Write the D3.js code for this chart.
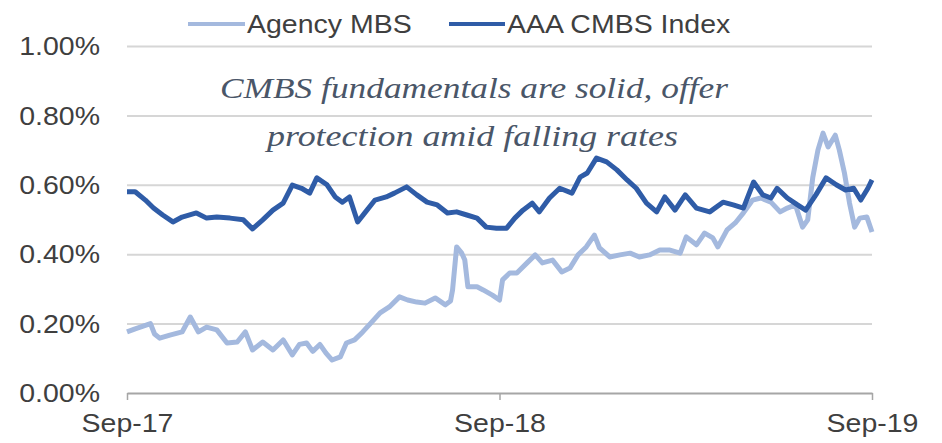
<!DOCTYPE html>
<html>
<head>
<meta charset="utf-8">
<script src="https://cdn.jsdelivr.net/npm/d3@7"></script>
<style>
  html, body { margin: 0; padding: 0; background: #ffffff; }
  svg { display: block; }
</style>
</head>
<body>
<svg id="chart" width="942" height="443"></svg>
<script>
// ---------------- DATA ----------------
const seriesNames = ["Agency MBS", "AAA CMBS Index"];

const yTickValues = [0, 0.2, 0.4, 0.6, 0.8, 1.0];
const xTickLabels = ["2017-09-01", "2018-09-01", "2019-09-01"];

const annotationLines = [
  "CMBS fundamentals are solid, offer",
  "protection amid falling rates"
];

// Agency MBS (%)
const agencyMBS = [
  ["2017-09-01",0.176],["2017-09-09",0.185],["2017-09-14",0.19],["2017-09-24",0.2],
  ["2017-09-28",0.17],["2017-10-03",0.158],["2017-10-13",0.167],["2017-10-25",0.176],
  ["2017-11-02",0.219],["2017-11-10",0.176],["2017-11-18",0.19],["2017-11-28",0.182],
  ["2017-12-08",0.144],["2017-12-18",0.147],["2017-12-26",0.176],["2018-01-02",0.124],
  ["2018-01-12",0.147],["2018-01-22",0.124],["2018-02-01",0.153],["2018-02-10",0.11],
  ["2018-02-17",0.14],["2018-02-24",0.144],["2018-03-02",0.12],["2018-03-09",0.14],
  ["2018-03-15",0.115],["2018-03-21",0.095],["2018-03-29",0.104],["2018-04-04",0.144],
  ["2018-04-12",0.153],["2018-04-20",0.176],["2018-04-29",0.205],["2018-05-07",0.231],
  ["2018-05-16",0.248],["2018-05-26",0.277],["2018-06-03",0.268],["2018-06-12",0.262],
  ["2018-06-20",0.259],["2018-06-30",0.274],["2018-07-10",0.254],["2018-07-15",0.265],
  ["2018-07-17",0.297],["2018-07-21",0.421],["2018-07-26",0.403],["2018-07-29",0.383],
  ["2018-08-01",0.306],["2018-08-10",0.306],["2018-08-16",0.297],["2018-08-25",0.282],
  ["2018-09-01",0.268],["2018-09-04",0.326],["2018-09-11",0.346],["2018-09-18",0.346],
  ["2018-09-28",0.375],["2018-10-06",0.398],["2018-10-13",0.375],["2018-10-23",0.383],
  ["2018-11-01",0.349],["2018-11-09",0.36],["2018-11-17",0.398],["2018-11-25",0.421],
  ["2018-12-03",0.455],["2018-12-08",0.418],["2018-12-18",0.392],["2018-12-28",0.398],
  ["2019-01-07",0.403],["2019-01-16",0.392],["2019-01-26",0.398],["2019-02-05",0.412],
  ["2019-02-15",0.412],["2019-02-25",0.403],["2019-03-03",0.45],["2019-03-13",0.427],
  ["2019-03-21",0.461],["2019-03-29",0.447],["2019-04-03",0.421],["2019-04-12",0.47],
  ["2019-04-20",0.49],["2019-04-28",0.519],["2019-05-07",0.556],["2019-05-15",0.562],
  ["2019-05-25",0.55],["2019-06-03",0.522],["2019-06-10",0.533],["2019-06-18",0.542],
  ["2019-06-25",0.478],["2019-06-30",0.499],["2019-07-05",0.622],["2019-07-10",0.7],
  ["2019-07-15",0.749],["2019-07-20",0.709],["2019-07-27",0.743],["2019-07-31",0.7],
  ["2019-08-05",0.634],["2019-08-10",0.547],["2019-08-15",0.478],["2019-08-20",0.504],
  ["2019-08-27",0.507],["2019-09-01",0.464]
];

// AAA CMBS Index (%)
const aaaCMBS = [
  ["2017-09-01",0.58],["2017-09-09",0.58],["2017-09-19",0.556],["2017-09-27",0.533],
  ["2017-10-06",0.513],["2017-10-16",0.493],["2017-10-25",0.507],["2017-11-08",0.519],
  ["2017-11-18",0.504],["2017-11-28",0.507],["2017-12-11",0.504],["2017-12-24",0.499],
  ["2018-01-02",0.473],["2018-01-12",0.499],["2018-01-22",0.527],["2018-02-01",0.547],
  ["2018-02-10",0.599],["2018-02-19",0.59],["2018-02-27",0.576],["2018-03-06",0.62],
  ["2018-03-16",0.6],["2018-03-24",0.565],["2018-03-31",0.55],["2018-04-07",0.565],
  ["2018-04-15",0.493],["2018-04-22",0.519],["2018-05-02",0.556],["2018-05-13",0.565],
  ["2018-05-21",0.576],["2018-06-02",0.594],["2018-06-12",0.571],["2018-06-22",0.55],
  ["2018-07-02",0.542],["2018-07-12",0.519],["2018-07-21",0.522],["2018-07-31",0.513],
  ["2018-08-10",0.504],["2018-08-19",0.478],["2018-08-29",0.475],["2018-09-08",0.475],
  ["2018-09-16",0.504],["2018-09-24",0.527],["2018-10-03",0.547],["2018-10-10",0.522],
  ["2018-10-20",0.562],["2018-10-30",0.59],["2018-11-11",0.576],["2018-11-19",0.622],
  ["2018-11-26",0.634],["2018-12-05",0.677],["2018-12-15",0.666],["2018-12-25",0.643],
  ["2019-01-04",0.614],["2019-01-13",0.59],["2019-01-23",0.547],["2019-02-02",0.522],
  ["2019-02-10",0.565],["2019-02-20",0.527],["2019-03-02",0.571],["2019-03-13",0.533],
  ["2019-03-26",0.522],["2019-04-08",0.55],["2019-04-18",0.542],["2019-04-28",0.533],
  ["2019-05-08",0.608],["2019-05-17",0.571],["2019-05-25",0.562],["2019-05-31",0.59],
  ["2019-06-10",0.562],["2019-06-20",0.542],["2019-06-28",0.527],["2019-07-08",0.571],
  ["2019-07-18",0.62],["2019-07-28",0.6],["2019-08-06",0.585],["2019-08-14",0.59],
  ["2019-08-21",0.556],["2019-08-28",0.59],["2019-09-01",0.614]
];

// ---------------- CHART ----------------
const parse = d3.timeParse("%Y-%m-%d");
const colors = { agency: "#a4b9de", cmbs: "#2f5ca7" };
const textColor = "#3f3f3f";
const fontFamily = "'Liberation Sans', Arial, sans-serif";
const stretch = 1.14;

const margin = { left: 127, right: 70, top: 46, bottom: 50 };
const W = 942, H = 443;
const plotW = W - margin.left - margin.right;   // 745
const plotH = H - margin.top - margin.bottom;   // 347

const svg = d3.select("#chart");
const g = svg.append("g").attr("transform", `translate(${margin.left},${margin.top})`);

const x = d3.scaleTime()
  .domain([parse(xTickLabels[0]), parse(xTickLabels[xTickLabels.length - 1])])
  .range([0, plotW]);
const y = d3.scaleLinear().domain([0, 1]).range([plotH, 0]);

// Y gridlines + labels
const yAxis = d3.axisLeft(y)
  .tickValues(yTickValues)
  .tickSize(-plotW)
  .tickFormat(d => d3.format(".2f")(d) + "%");
const yg = g.append("g").call(yAxis);
yg.select(".domain").remove();
yg.selectAll(".tick line")
  .attr("stroke", "#d6d6d6")
  .attr("stroke-width", 2)
  .filter(d => d === 0).remove();
yg.selectAll(".tick text")
  .attr("x", null)
  .attr("dy", "0.35em")
  .attr("transform", `translate(-27,0) scale(${stretch},1)`)
  .attr("fill", textColor)
  .style("font-family", fontFamily)
  .style("font-size", "25px");

// X axis
const xAxis = d3.axisBottom(x)
  .tickValues(xTickLabels.map(parse))
  .tickSize(7)
  .tickSizeOuter(0)
  .tickFormat(d3.timeFormat("%b-%y"));
const xg = g.append("g").attr("transform", `translate(0,${plotH})`).call(xAxis);
xg.select(".domain").attr("stroke", "#a6a6a6").attr("stroke-width", 2);
xg.selectAll(".tick line").attr("stroke", "#a6a6a6").attr("stroke-width", 1.5);
xg.selectAll(".tick text")
  .attr("y", null)
  .attr("dy", null)
  .attr("transform", `translate(0,39) scale(${stretch},1)`)
  .attr("fill", textColor)
  .style("font-family", fontFamily)
  .style("font-size", "25px");

// Lines
const line = d3.line()
  .x(d => x(parse(d[0])))
  .y(d => y(d[1]))
  .curve(d3.curveLinear);

g.append("path")
  .datum(agencyMBS)
  .attr("fill", "none")
  .attr("stroke", colors.agency)
  .attr("stroke-width", 5)
  .attr("stroke-linejoin", "round")
  .attr("d", line);

g.append("path")
  .datum(aaaCMBS)
  .attr("fill", "none")
  .attr("stroke", colors.cmbs)
  .attr("stroke-width", 5)
  .attr("stroke-linejoin", "round")
  .attr("d", line);

// Legend
const legend = svg.append("g");
const legendItems = [
  { name: seriesNames[0], color: colors.agency, x1: 188, x2: 245, tx: 247 },
  { name: seriesNames[1], color: colors.cmbs, x1: 449, x2: 505, tx: 507 }
];
legendItems.forEach(it => {
  legend.append("line")
    .attr("x1", it.x1).attr("x2", it.x2)
    .attr("y1", 24).attr("y2", 24)
    .attr("stroke", it.color).attr("stroke-width", 4);
  legend.append("text")
    .attr("transform", `translate(${it.tx},33) scale(${stretch},1)`)
    .attr("fill", textColor)
    .style("font-family", fontFamily)
    .style("font-size", "25px")
    .text(it.name);
});

// Annotation
const annotation = [
  { text: annotationLines[0], cx: 474, by: 98, len: 508 },
  { text: annotationLines[1], cx: 472.5, by: 146, len: 411 }
];
annotation.forEach(a => {
  svg.append("text")
    .attr("x", a.cx).attr("y", a.by)
    .attr("text-anchor", "middle")
    .attr("textLength", a.len)
    .attr("lengthAdjust", "spacingAndGlyphs")
    .attr("fill", "#4a5668")
    .style("font-family", "'Liberation Serif', 'DejaVu Serif', serif")
    .style("font-style", "italic")
    .style("font-size", "29px")
    .text(a.text);
});
</script>
</body>
</html>
